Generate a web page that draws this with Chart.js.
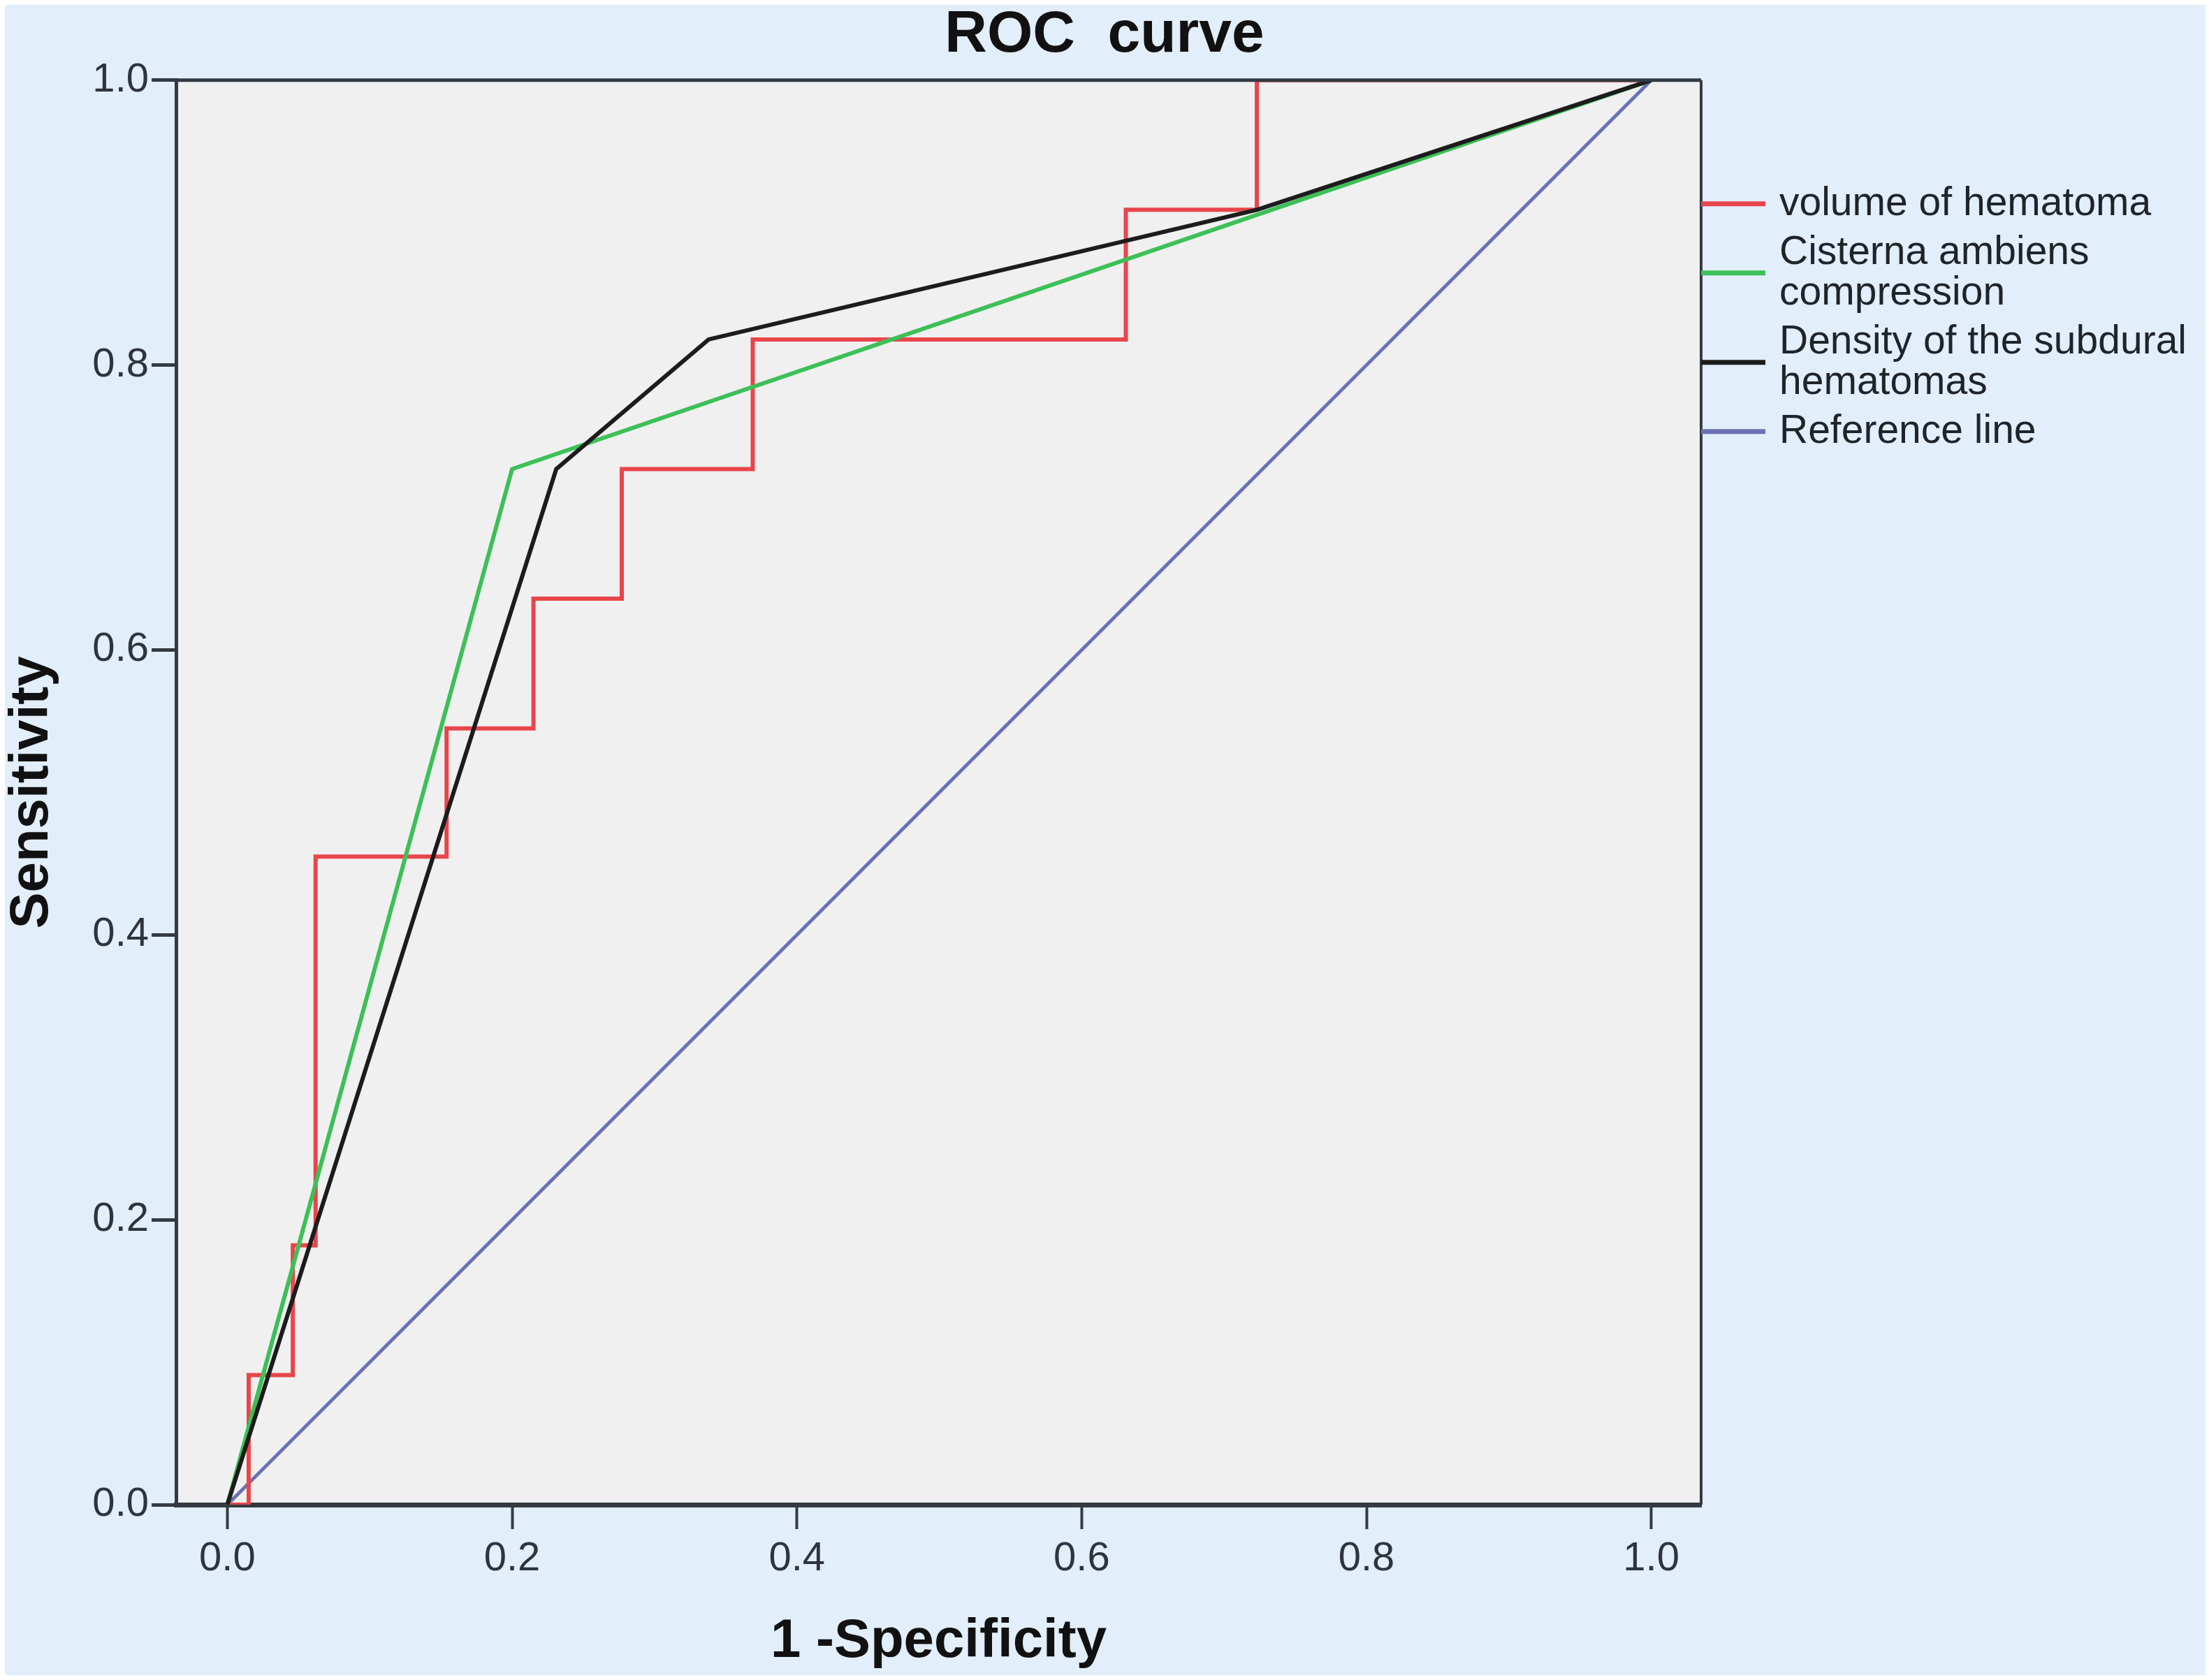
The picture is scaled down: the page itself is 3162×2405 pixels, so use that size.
<!DOCTYPE html>
<html lang="en">
<head>
  <meta charset="UTF-8">
  <title>ROC curve</title>
  <script src="https://cdn.jsdelivr.net/npm/chart.js"></script>
  <style>
    html, body { margin: 0; padding: 0; background: #ffffff; }
    .chart-box { position: absolute; left: 0; top: 0; width: 3162px; height: 2405px; }
  </style>
</head>
<body>
  <div class="chart-box">
    <canvas id="rocChart"></canvas>
  </div>

  <script>
    // ROC points (1 - specificity, sensitivity)
    var volumeX = [0, 0.015, 0.015, 0.046, 0.046, 0.062, 0.062, 0.154, 0.154, 0.215, 0.215, 0.277, 0.277, 0.369, 0.369, 0.631, 0.631, 0.723, 0.723, 1];
    var volumeY = [0, 0, 0.091, 0.091, 0.182, 0.182, 0.455, 0.455, 0.545, 0.545, 0.636, 0.636, 0.727, 0.727, 0.818, 0.818, 0.909, 0.909, 1, 1];
    var cisternaX = [0, 0.2, 1];
    var cisternaY = [0, 0.727, 1];
    var densityX = [0, 0.231, 0.338, 0.723, 1];
    var densityY = [0, 0.727, 0.818, 0.909, 1];
    var referenceX = [0, 1];
    var referenceY = [0, 1];

    var seriesLabels = [
      ['volume of hematoma'],
      ['Cisterna ambiens', 'compression'],
      ['Density of the subdural', 'hematomas'],
      ['Reference line']
    ];
    var xTicks = [0, 0.2, 0.4, 0.6, 0.8, 1.0];
    var yTicks = [0, 0.2, 0.4, 0.6, 0.8, 1.0];

    var fontFamily = '"Liberation Sans", Arial, sans-serif';
    var frameColor = '#333a42';

    function toPoints(xs, ys) {
      return xs.map(function(x, i) { return { x: x, y: ys[i] }; });
    }

    // background: white rim, light blue page, grey plot area, frame on top/right
    var backgroundPlugin = {
      id: 'spssBackground',
      beforeDraw: function(chart) {
        var ctx = chart.ctx, a = chart.chartArea;
        ctx.save();
        ctx.fillStyle = '#ffffff';
        ctx.fillRect(0, 0, chart.width, chart.height);
        ctx.fillStyle = '#e2eefa';
        ctx.fillRect(7, 7, chart.width - 12, chart.height - 14);
        ctx.fillStyle = '#f0f0f0';
        ctx.fillRect(a.left, a.top, a.right - a.left, a.bottom - a.top);
        ctx.restore();
      },
      afterDatasetsDraw: function(chart) {
        var ctx = chart.ctx, a = chart.chartArea;
        ctx.save();
        ctx.strokeStyle = frameColor;
        ctx.lineWidth = 5;
        ctx.beginPath();
        ctx.moveTo(a.left, a.top);
        ctx.lineTo(a.right, a.top);
        ctx.stroke();
        ctx.lineWidth = 4;
        ctx.beginPath();
        ctx.moveTo(a.right, a.top);
        ctx.lineTo(a.right, a.bottom);
        ctx.stroke();
        ctx.restore();
      }
    };

    // legend to the right of the plot, line markers touching the frame
    var sideLegendPlugin = {
      id: 'sideLegend',
      afterDraw: function(chart) {
        var ctx = chart.ctx, a = chart.chartArea;
        var lineGap = 58, entryGap = 70;
        var y = a.top + 177;
        ctx.save();
        ctx.font = '57px ' + fontFamily;
        ctx.textBaseline = 'middle';
        ctx.textAlign = 'left';
        chart.data.datasets.forEach(function(ds, i) {
          var lines = seriesLabels[i];
          var mid = y + (lines.length - 1) * lineGap / 2;
          ctx.strokeStyle = ds.borderColor;
          ctx.lineWidth = 7;
          ctx.beginPath();
          ctx.moveTo(a.right, mid);
          ctx.lineTo(a.right + 92, mid);
          ctx.stroke();
          ctx.fillStyle = '#1f2429';
          lines.forEach(function(t, j) {
            ctx.fillText(t, a.right + 112, y + j * lineGap);
          });
          y += (lines.length - 1) * lineGap + entryGap;
        });
        ctx.restore();
      }
    };

    var ctxRoc = document.getElementById('rocChart').getContext('2d');
    var rocChart = new Chart(ctxRoc, {
      type: 'line',
      data: {
        datasets: [
          { label: seriesLabels[0].join(' '), data: toPoints(volumeX, volumeY), borderColor: '#e8454b', borderWidth: 6, order: 2 },
          { label: seriesLabels[1].join(' '), data: toPoints(cisternaX, cisternaY), borderColor: '#3cc057', borderWidth: 6, order: 1 },
          { label: seriesLabels[2].join(' '), data: toPoints(densityX, densityY), borderColor: '#1c1c1c', borderWidth: 6, order: 0 },
          { label: seriesLabels[3].join(' '), data: toPoints(referenceX, referenceY), borderColor: '#6a72b4', borderWidth: 5, order: 3 }
        ]
      },
      options: {
        responsive: true,
        maintainAspectRatio: false,
        animation: false,
        layout: { padding: 0 },
        elements: { point: { radius: 0 }, line: { tension: 0, fill: false } },
        scales: {
          x: {
            type: 'linear',
            min: -0.036,
            max: 1.035,
            afterFit: function(s) { s.height = 251; },
            afterBuildTicks: function(s) { s.ticks = xTicks.map(function(v) { return { value: v }; }); },
            grid: { drawOnChartArea: false, drawTicks: true, tickLength: 35, tickWidth: 4, tickColor: frameColor },
            border: { display: true, color: frameColor, width: 7 },
            ticks: {
              color: '#2e343b', padding: 8, maxRotation: 0,
              font: { size: 58, family: fontFamily },
              callback: function(v) { return v.toFixed(1); }
            },
            title: {
              display: true, text: '1 -Specificity', color: '#111111',
              font: { size: 78, weight: 'bold', family: fontFamily },
              padding: { top: 0, bottom: 8 }
            }
          },
          y: {
            type: 'linear',
            min: 0,
            max: 1,
            afterFit: function(s) { s.width = 252; },
            afterBuildTicks: function(s) { s.ticks = yTicks.map(function(v) { return { value: v }; }); },
            grid: { drawOnChartArea: false, drawTicks: true, tickLength: 35, tickWidth: 5, tickColor: frameColor },
            border: { display: true, color: frameColor, width: 5 },
            ticks: {
              color: '#2e343b', padding: 4,
              font: { size: 58, family: fontFamily },
              callback: function(v) { return v.toFixed(1); }
            },
            title: {
              display: true, text: 'Sensitivity', color: '#111111',
              font: { size: 78, weight: 'bold', family: fontFamily },
              padding: { top: 0, bottom: 0 }
            }
          },
          // empty right-hand axis that reserves the room where the legend sits
          legendSpace: {
            type: 'linear',
            position: 'right',
            min: 0,
            max: 1,
            afterFit: function(s) { s.width = 727; },
            grid: { display: false },
            border: { display: false },
            ticks: { display: false }
          }
        },
        plugins: {
          legend: { display: false },
          tooltip: { enabled: false },
          title: {
            display: true, text: 'ROC  curve', color: '#111111',
            font: { size: 84, weight: 'bold', family: fontFamily },
            padding: { top: 0, bottom: 14 }
          }
        }
      },
      plugins: [backgroundPlugin, sideLegendPlugin]
    });
  </script>
</body>
</html>
